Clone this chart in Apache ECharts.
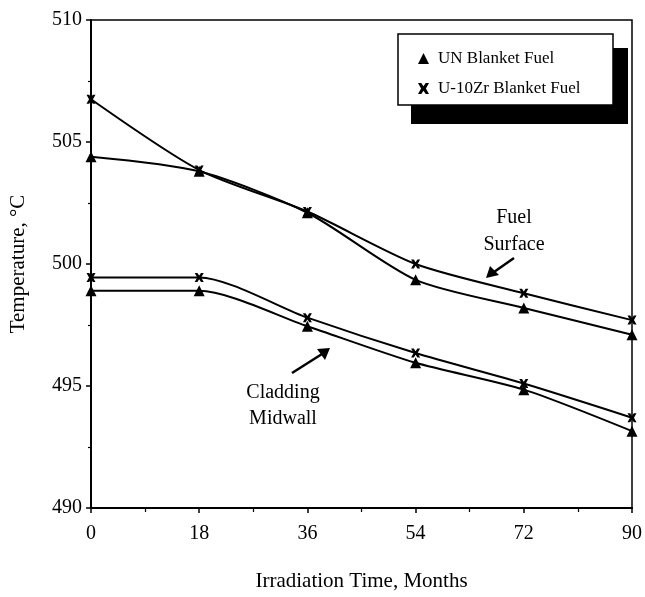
<!DOCTYPE html>
<html>
<head>
<meta charset="utf-8">
<script src="https://cdn.jsdelivr.net/npm/echarts@6/dist/echarts.min.js"></script>
<style>html,body{margin:0;padding:0;background:#fff}#c{width:645px;height:597px}</style>
</head>
<body>
<div id="c"></div>
<script>
const months = [0, 18, 36, 54, 72, 90];
const unSurface = [504.4, 503.8, 502.1, 499.35, 498.2, 497.1];
const zrSurface = [506.75, 503.85, 502.15, 500.0, 498.8, 497.7];
const unCladding = [498.9, 498.9, 497.45, 495.95, 494.85, 493.15];
const zrCladding = [499.45, 499.45, 497.8, 496.35, 495.1, 493.7];
const xTicks = [0, 18, 36, 54, 72, 90];
const yTicks = [490, 495, 500, 505, 510];
const seriesNames = ['UN Blanket Fuel', 'U-10Zr Blanket Fuel'];

const FONT = '"Liberation Serif", "DejaVu Serif", serif';
const xMark = 'path://M0,0 L3,0 L5,3 L7,0 L10,0 L7.2,5 L10,10 L7,10 L5,7 L3,10 L0,10 L2.8,5 Z';

function pair(a) { return months.map((m, i) => [m, a[i]]); }
function mk(name, data, sym, size) {
  return {
    name: name, type: 'line', data: pair(data), smooth: 0.25,
    symbol: sym, symbolSize: size, showSymbol: true,
    lineStyle: { color: '#000', width: 2 },
    itemStyle: { color: '#000' },
    emphasis: { disabled: true }, z: 3
  };
}

const chart = echarts.init(document.getElementById('c'), null, { renderer: 'canvas' });
chart.setOption({
  animation: false,
  backgroundColor: '#fff',
  grid: { left: 90, right: 13, top: 20, bottom: 89, show: true, borderColor: '#000', borderWidth: 1.5, backgroundColor: 'transparent' },
  xAxis: {
    type: 'value', min: 0, max: 90, interval: 18,
    name: 'Irradiation Time, Months', nameLocation: 'middle', nameGap: 63,
    nameTextStyle: { fontFamily: FONT, fontSize: 21, color: '#000' },
    axisLine: { lineStyle: { color: '#000', width: 2 } },
    axisTick: { show: true, length: 5, lineStyle: { color: '#000', width: 1.5 } },
    minorTick: { show: true, splitNumber: 2, length: 4, lineStyle: { color: '#000', width: 1.2 } },
    splitLine: { show: false },
    axisLabel: { fontFamily: FONT, fontSize: 20, color: '#000', margin: 16,
      formatter: v => xTicks.indexOf(v) >= 0 ? String(v) : '' }
  },
  yAxis: {
    type: 'value', min: 490, max: 510, interval: 5,
    name: 'Temperature, °C', nameLocation: 'middle', nameGap: 62, nameRotate: 90,
    nameTextStyle: { fontFamily: FONT, fontSize: 21, color: '#000' },
    axisLine: { lineStyle: { color: '#000', width: 2 } },
    axisTick: { show: true, length: 5, lineStyle: { color: '#000', width: 1.5 } },
    minorTick: { show: true, splitNumber: 2, length: 3, lineStyle: { color: '#000', width: 1.2 } },
    splitLine: { show: false },
    axisLabel: { fontFamily: FONT, fontSize: 20, color: '#000', margin: 9,
      formatter: v => yTicks.indexOf(v) >= 0 ? String(v) : '' }
  },
  legend: {
    orient: 'vertical', left: 413, top: 45, itemGap: 13,
    itemWidth: 11, itemHeight: 11, selectedMode: false,
    textStyle: { fontFamily: FONT, fontSize: 17, color: '#000', padding: [0, 0, 0, 4] },
    data: [
      { name: seriesNames[0], icon: 'triangle' },
      { name: seriesNames[1], icon: xMark }
    ],
    z: 20
  },
  graphic: [
    { type: 'rect', shape: { x: 411, y: 48, width: 217, height: 76 }, style: { fill: '#000' }, z: 1 },
    { type: 'rect', shape: { x: 398, y: 34, width: 215, height: 71 }, style: { fill: '#fff', stroke: '#000', lineWidth: 1.5 }, z: 2 },
    { type: 'text', x: 514, y: 218, style: { text: 'Fuel', fontFamily: FONT, fontSize: 20, fill: '#000', align: 'center', verticalAlign: 'middle' }, z: 6 },
    { type: 'text', x: 514, y: 245, style: { text: 'Surface', fontFamily: FONT, fontSize: 20, fill: '#000', align: 'center', verticalAlign: 'middle' }, z: 6 },
    { type: 'line', shape: { x1: 514, y1: 258, x2: 494, y2: 272 }, style: { stroke: '#000', lineWidth: 2.5 }, z: 6 },
    { type: 'polygon', shape: { points: [[486, 278], [490, 266], [499, 275]] }, style: { fill: '#000' }, z: 6 },
    { type: 'text', x: 283, y: 393, style: { text: 'Cladding', fontFamily: FONT, fontSize: 20, fill: '#000', align: 'center', verticalAlign: 'middle' }, z: 6 },
    { type: 'text', x: 283, y: 419, style: { text: 'Midwall', fontFamily: FONT, fontSize: 20, fill: '#000', align: 'center', verticalAlign: 'middle' }, z: 6 },
    { type: 'line', shape: { x1: 292, y1: 373, x2: 322, y2: 354 }, style: { stroke: '#000', lineWidth: 2.5 }, z: 6 },
    { type: 'polygon', shape: { points: [[330, 348], [317, 349], [325, 360]] }, style: { fill: '#000' }, z: 6 }
  ],
  series: [
    mk(seriesNames[0], unSurface, 'triangle', 11),
    mk(seriesNames[1], zrSurface, xMark, 9),
    mk(seriesNames[0], unCladding, 'triangle', 11),
    mk(seriesNames[1], zrCladding, xMark, 9)
  ]
});
</script>
</body>
</html>
